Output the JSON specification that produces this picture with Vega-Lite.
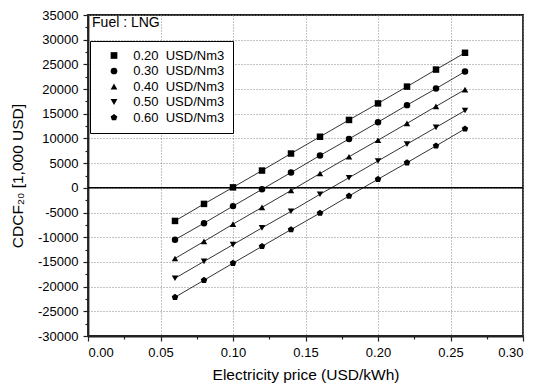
{
  "$schema": "https://vega.github.io/schema/vega-lite/v6.json",
  "width": 435,
  "height": 321,
  "autosize": {"type": "none"},
  "padding": {"left": 88, "top": 15, "right": 15, "bottom": 51},
  "background": "white",
  "config": {
    "font": "Liberation Sans",
    "view": {"stroke": "#222222", "strokeWidth": 1.8},
    "axis": {
      "labelFont": "Liberation Sans",
      "labelFontSize": 13,
      "labelColor": "black",
      "labelOverlap": false,
      "titleFont": "Liberation Sans",
      "titleFontSize": 15.5,
      "titleFontWeight": "normal",
      "titleColor": "black",
      "domainColor": "#222222",
      "domainWidth": 1.8,
      "tickColor": "#222222",
      "tickWidth": 1.2,
      "tickSize": 5,
      "gridColor": "#888888",
      "gridDash": [1, 2],
      "gridWidth": 1
    }
  },
  "datasets": {
    "zero": [{"zv": 0}],
    "note": [{"tx": 0.0028, "ty": 33350, "t": "Fuel : LNG"}],
    "main": [
      {"p": 0.06, "v": -6700, "s": "0.20  USD/Nm3"},
      {"p": 0.08, "v": -3250, "s": "0.20  USD/Nm3"},
      {"p": 0.10, "v": 100, "s": "0.20  USD/Nm3"},
      {"p": 0.12, "v": 3500, "s": "0.20  USD/Nm3"},
      {"p": 0.14, "v": 6950, "s": "0.20  USD/Nm3"},
      {"p": 0.16, "v": 10350, "s": "0.20  USD/Nm3"},
      {"p": 0.18, "v": 13750, "s": "0.20  USD/Nm3"},
      {"p": 0.20, "v": 17100, "s": "0.20  USD/Nm3"},
      {"p": 0.22, "v": 20500, "s": "0.20  USD/Nm3"},
      {"p": 0.24, "v": 23950, "s": "0.20  USD/Nm3"},
      {"p": 0.26, "v": 27350, "s": "0.20  USD/Nm3"},
      {"p": 0.06, "v": -10500, "s": "0.30  USD/Nm3"},
      {"p": 0.08, "v": -7150, "s": "0.30  USD/Nm3"},
      {"p": 0.10, "v": -3700, "s": "0.30  USD/Nm3"},
      {"p": 0.12, "v": -300, "s": "0.30  USD/Nm3"},
      {"p": 0.14, "v": 3100, "s": "0.30  USD/Nm3"},
      {"p": 0.16, "v": 6550, "s": "0.30  USD/Nm3"},
      {"p": 0.18, "v": 9900, "s": "0.30  USD/Nm3"},
      {"p": 0.20, "v": 13300, "s": "0.30  USD/Nm3"},
      {"p": 0.22, "v": 16750, "s": "0.30  USD/Nm3"},
      {"p": 0.24, "v": 20100, "s": "0.30  USD/Nm3"},
      {"p": 0.26, "v": 23550, "s": "0.30  USD/Nm3"},
      {"p": 0.06, "v": -14300, "s": "0.40  USD/Nm3"},
      {"p": 0.08, "v": -10850, "s": "0.40  USD/Nm3"},
      {"p": 0.10, "v": -7350, "s": "0.40  USD/Nm3"},
      {"p": 0.12, "v": -3950, "s": "0.40  USD/Nm3"},
      {"p": 0.14, "v": -550, "s": "0.40  USD/Nm3"},
      {"p": 0.16, "v": 2900, "s": "0.40  USD/Nm3"},
      {"p": 0.18, "v": 6300, "s": "0.40  USD/Nm3"},
      {"p": 0.20, "v": 9650, "s": "0.40  USD/Nm3"},
      {"p": 0.22, "v": 13050, "s": "0.40  USD/Nm3"},
      {"p": 0.24, "v": 16500, "s": "0.40  USD/Nm3"},
      {"p": 0.26, "v": 19900, "s": "0.40  USD/Nm3"},
      {"p": 0.06, "v": -18300, "s": "0.50  USD/Nm3"},
      {"p": 0.08, "v": -14900, "s": "0.50  USD/Nm3"},
      {"p": 0.10, "v": -11500, "s": "0.50  USD/Nm3"},
      {"p": 0.12, "v": -8100, "s": "0.50  USD/Nm3"},
      {"p": 0.14, "v": -4750, "s": "0.50  USD/Nm3"},
      {"p": 0.16, "v": -1300, "s": "0.50  USD/Nm3"},
      {"p": 0.18, "v": 2050, "s": "0.50  USD/Nm3"},
      {"p": 0.20, "v": 5450, "s": "0.50  USD/Nm3"},
      {"p": 0.22, "v": 8850, "s": "0.50  USD/Nm3"},
      {"p": 0.24, "v": 12250, "s": "0.50  USD/Nm3"},
      {"p": 0.26, "v": 15650, "s": "0.50  USD/Nm3"},
      {"p": 0.06, "v": -22150, "s": "0.60  USD/Nm3"},
      {"p": 0.08, "v": -18700, "s": "0.60  USD/Nm3"},
      {"p": 0.10, "v": -15250, "s": "0.60  USD/Nm3"},
      {"p": 0.12, "v": -11850, "s": "0.60  USD/Nm3"},
      {"p": 0.14, "v": -8450, "s": "0.60  USD/Nm3"},
      {"p": 0.16, "v": -5100, "s": "0.60  USD/Nm3"},
      {"p": 0.18, "v": -1650, "s": "0.60  USD/Nm3"},
      {"p": 0.20, "v": 1750, "s": "0.60  USD/Nm3"},
      {"p": 0.22, "v": 5100, "s": "0.60  USD/Nm3"},
      {"p": 0.24, "v": 8500, "s": "0.60  USD/Nm3"},
      {"p": 0.26, "v": 11950, "s": "0.60  USD/Nm3"}
    ]
  },
  "resolve": {"scale": {"x": "independent", "y": "independent"}},
  "layer": [
    {
      "data": {"name": "zero"},
      "mark": {"type": "point", "opacity": 0},
      "encoding": {
        "x": {
          "field": "zv",
          "type": "quantitative",
          "title": "Electricity price (USD/kWh)",
          "scale": {"domain": [0, 0.3], "nice": false, "zero": false},
          "axis": {
            "orient": "bottom",
            "grid": true,
            "values": [0, 0.05, 0.1, 0.15, 0.2, 0.25, 0.3],
            "labelExpr": "format(datum.value, '.2f')",
            "labelOverlap": false,
            "labelPadding": 5,
            "titlePadding": 8
          }
        },
        "y": {
          "field": "zv",
          "type": "quantitative",
          "title": "CDCF₂₀ [1,000 USD]",
          "scale": {"domain": [-30000, 35000], "nice": false, "zero": false},
          "axis": {
            "orient": "left",
            "grid": true,
            "values": [-30000, -25000, -20000, -15000, -10000, -5000, 0, 5000, 10000, 15000, 20000, 25000, 30000, 35000],
            "labelExpr": "'' + datum.value",
            "labelOverlap": false,
            "labelPadding": 5,
            "titlePadding": 12
          }
        }
      }
    },
    {
      "data": {"name": "zero"},
      "mark": {"type": "point", "opacity": 0},
      "encoding": {
        "x": {
          "field": "zv",
          "type": "quantitative",
          "scale": {"domain": [0, 0.3], "nice": false, "zero": false},
          "axis": {
            "orient": "bottom",
            "title": null,
            "labels": false,
            "grid": false,
            "domain": false,
            "tickSize": 3,
            "values": [0.025, 0.075, 0.125, 0.175, 0.225, 0.275]
          }
        },
        "y": {
          "field": "zv",
          "type": "quantitative",
          "scale": {"domain": [-30000, 35000], "nice": false, "zero": false},
          "axis": {
            "orient": "left",
            "title": null,
            "labels": false,
            "grid": false,
            "domain": false,
            "tickSize": 3,
            "values": [-27500, -22500, -17500, -12500, -7500, -2500, 2500, 7500, 12500, 17500, 22500, 27500, 32500]
          }
        }
      }
    },
    {
      "layer": [
        {
          "data": {"name": "main"},
          "mark": {"type": "line", "color": "#333333", "strokeWidth": 1},
          "encoding": {
            "x": {"field": "p", "type": "quantitative", "scale": {"domain": [0, 0.3], "nice": false, "zero": false}, "axis": null},
            "y": {"field": "v", "type": "quantitative", "scale": {"domain": [-30000, 35000], "nice": false, "zero": false}, "axis": null},
            "detail": {"field": "s", "type": "nominal"}
          }
        },
        {
          "data": {"name": "zero"},
          "mark": {"type": "rule", "color": "black", "strokeWidth": 1.5},
          "encoding": {
            "y": {"field": "zv", "type": "quantitative", "scale": {"domain": [-30000, 35000], "nice": false, "zero": false}, "axis": null}
          }
        },
        {
          "data": {"name": "main"},
          "mark": {"type": "point", "filled": true, "color": "black", "opacity": 1, "size": 42},
          "encoding": {
            "x": {"field": "p", "type": "quantitative", "scale": {"domain": [0, 0.3], "nice": false, "zero": false}, "axis": null},
            "y": {"field": "v", "type": "quantitative", "scale": {"domain": [-30000, 35000], "nice": false, "zero": false}, "axis": null},
            "shape": {
              "field": "s",
              "type": "nominal",
              "scale": {
                "domain": ["0.20  USD/Nm3", "0.30  USD/Nm3", "0.40  USD/Nm3", "0.50  USD/Nm3", "0.60  USD/Nm3"],
                "range": ["square", "circle", "triangle-up", "triangle-down", "M0,-1.05L1,-0.32L0.62,0.85L-0.62,0.85L-1,-0.32Z"]
              },
              "legend": {
                "title": null,
                "orient": "none",
                "legendX": 2,
                "legendY": 26,
                "padding": 8,
                "strokeColor": "black",
                "fillColor": "white",
                "labelFont": "Liberation Sans",
                "labelFontSize": 13,
                "labelColor": "black",
                "labelExpr": "replace(datum.label, '  ', '\u00a0\u00a0')",
                "symbolSize": 45,
                "symbolFillColor": "black",
                "symbolStrokeColor": "black",
                "symbolStrokeWidth": 1,
                "symbolOpacity": 1,
                "symbolOffset": 9.5,
                "labelOffset": 12.7,
                "rowPadding": 1.5
              }
            }
          }
        },
        {
          "data": {"name": "note"},
          "mark": {"type": "text", "align": "left", "baseline": "middle", "fontSize": 14, "font": "Liberation Sans", "color": "black"},
          "encoding": {
            "x": {"field": "tx", "type": "quantitative", "scale": {"domain": [0, 0.3], "nice": false, "zero": false}, "axis": null},
            "y": {"field": "ty", "type": "quantitative", "scale": {"domain": [-30000, 35000], "nice": false, "zero": false}, "axis": null},
            "text": {"field": "t", "type": "nominal"}
          }
        }
      ]
    }
  ]
}
